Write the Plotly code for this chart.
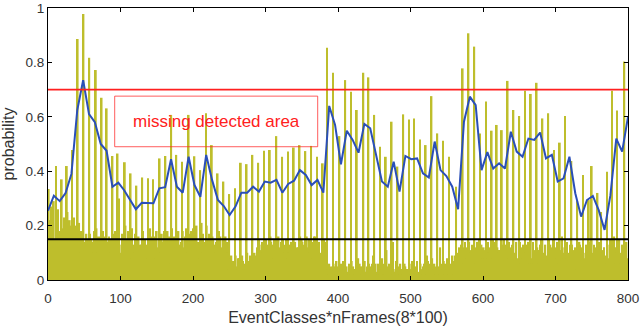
import numpy as np
import plotly.graph_objects as go

# Per-class probabilities, 100 frames each (EventClasses = 8, nFrames = 100)
class_1 = [0.335, 0.12, 0.18, 0.09, 0.478, 0.886, 0.978, 0.817, 0.14, 0.07,
           0.631, 0.456, 0.16, 0.11, 0.05, 0.17, 0.13, 0.08, 0.37, 0.12,
           0.15, 0.06, 0.46, 0.435, 0.10, 0.19, 0.08, 0.14, 0.11, 0.17,
           0.09, 0.04, 0.07, 0.03, 0.08, 0.05, 0.12, 0.14, 0.09, 0.13,
           0.07, 0.15, 0.11, 0.06, 0.13, 0.10, 0.16, 0.08, 0.854, 0.762,
           0.03, 0.05, 0.02, 0.06, 0.01, 0.04, 0.09, 0.02, 0.05, 0.03,
           0.07, 0.02, 0.04, 0.594, 0.517, 0.496, 0.676, 0.539, 0.512, 0.453,
           0.05, 0.11, 0.08, 0.13, 0.06, 0.12, 0.09, 0.14, 0.07, 0.10,
           0.12, 0.05, 0.09, 0.13, 0.04, 0.11, 0.07, 0.15, 0.06, 0.603,
           0.10, 0.04, 0.12, 0.08, 0.13, 0.05, 0.09, 0.14, 0.623, 0.11]
class_2 = [0.22, 0.15, 0.28, 0.419, 0.19, 0.13, 0.11, 0.17, 0.772, 0.67,
           0.14, 0.09, 0.30, 0.433, 0.392, 0.347, 0.377, 0.374, 0.15, 0.447,
           0.456, 0.607, 0.12, 0.18, 0.607, 0.455, 0.404, 0.613, 0.496, 0.392,
           0.362, 0.316, 0.337, 0.431, 0.426, 0.46, 0.431, 0.475, 0.478, 0.11,
           0.14, 0.08, 0.16, 0.12, 0.09, 0.15, 0.07, 0.13, 0.04, 0.06,
           0.529, 0.735, 0.692, 0.625, 0.05, 0.745, 0.607, 0.49, 0.453, 0.582,
           0.417, 0.609, 0.59, 0.03, 0.06, 0.02, 0.08, 0.04, 0.07, 0.03,
           0.09, 0.13, 0.06, 0.11, 0.14, 0.08, 0.12, 0.10, 0.551, 0.732,
           0.625, 0.603, 0.696, 0.684, 0.725, 0.594, 0.613, 0.478, 0.505, 0.12,
           0.4375, 0.29, 0.386, 0.294, 0.07, 0.11, 0.06, 0.696, 0.13, 0.09]
class_3 = [0.18, 0.419, 0.37, 0.25, 0.16, 0.21, 0.14, 0.12, 0.19, 0.15,
           0.11, 0.17, 0.13, 0.20, 0.08, 0.14, 0.18, 0.12, 0.16, 0.10,
           0.13, 0.19, 0.15, 0.09, 0.17, 0.12, 0.14, 0.20, 0.16, 0.11,
           0.13, 0.06, 0.09, 0.05, 0.10, 0.07, 0.15, 0.12, 0.16, 0.529,
           0.453, 0.472, 0.487, 0.496, 0.474, 0.493, 0.453, 0.429, 0.02, 0.05,
           0.04, 0.02, 0.07, 0.03, 0.762, 0.06, 0.01, 0.04, 0.11, 0.02,
           0.05, 0.03, 0.06, 0.02, 0.04, 0.09, 0.03, 0.05, 0.02, 0.06,
           0.343, 0.07, 0.12, 0.09, 0.15, 0.11, 0.06, 0.57, 0.13, 0.08,
           0.07, 0.14, 0.10, 0.06, 0.12, 0.09, 0.15, 0.05, 0.11, 0.08,
           0.13, 0.06, 0.10, 0.14, 0.09, 0.25, 0.398, 0.12, 0.07, 0.803]
class_4 = [0.27, 0.20, 0.13, 0.17, 0.23, 0.16, 0.12, 0.15, 0.10, 0.18,
           0.16, 0.12, 0.09, 0.15, 0.19, 0.11, 0.14, 0.17, 0.08, 0.15,
           0.10, 0.14, 0.18, 0.12, 0.16, 0.09, 0.21, 0.13, 0.15, 0.18,
           0.11, 0.08, 0.05, 0.09, 0.04, 0.08, 0.13, 0.09, 0.14, 0.11,
           0.15, 0.10, 0.13, 0.16, 0.08, 0.14, 0.11, 0.12, 0.06, 0.03,
           0.02, 0.05, 0.03, 0.08, 0.04, 0.02, 0.06, 0.03, 0.05, 0.14,
           0.03, 0.06, 0.02, 0.05, 0.03, 0.07, 0.04, 0.02, 0.06, 0.04,
           0.08, 0.778, 0.907, 0.858, 0.539, 0.656, 0.549, 0.12, 0.09, 0.14,
           0.10, 0.06, 0.13, 0.08, 0.11, 0.05, 0.09, 0.12, 0.07, 0.14,
           0.08, 0.11, 0.05, 0.12, 0.10, 0.07, 0.13, 0.09, 0.15, 0.06]
class_5 = [0.263, 0.24, 0.19, 0.12, 0.15, 0.10, 0.17, 0.13, 0.16, 0.11,
           0.13, 0.18, 0.10, 0.14, 0.12, 0.16, 0.09, 0.19, 0.13, 0.17,
           0.18, 0.11, 0.13, 0.16, 0.12, 0.20, 0.10, 0.15, 0.09, 0.14,
           0.16, 0.09, 0.04, 0.07, 0.05, 0.10, 0.09, 0.15, 0.11, 0.13,
           0.12, 0.09, 0.14, 0.10, 0.16, 0.08, 0.13, 0.15, 0.05, 0.02,
           0.06, 0.03, 0.05, 0.02, 0.07, 0.04, 0.03, 0.08, 0.02, 0.04,
           0.02, 0.05, 0.04, 0.07, 0.02, 0.03, 0.06, 0.12, 0.03, 0.05,
           0.10, 0.06, 0.14, 0.07, 0.11, 0.13, 0.08, 0.10, 0.15, 0.06,
           0.09, 0.12, 0.07, 0.14, 0.06, 0.10, 0.13, 0.08, 0.16, 0.05,
           0.11, 0.14, 0.08, 0.06, 0.12, 0.10, 0.05, 0.16, 0.09, 0.12]
class_6 = [0.21, 0.26, 0.15, 0.22, 0.13, 0.18, 0.09, 0.14, 0.12, 0.16,
           0.10, 0.14, 0.17, 0.09, 0.13, 0.11, 0.15, 0.10, 0.18, 0.12,
           0.14, 0.16, 0.09, 0.13, 0.18, 0.11, 0.17, 0.10, 0.13, 0.16,
           0.12, 0.05, 0.08, 0.04, 0.07, 0.03, 0.11, 0.08, 0.13, 0.16,
           0.10, 0.13, 0.08, 0.15, 0.11, 0.09, 0.14, 0.10, 0.04, 0.07,
           0.05, 0.02, 0.04, 0.06, 0.03, 0.05, 0.02, 0.06, 0.04, 0.03,
           0.06, 0.04, 0.03, 0.02, 0.05, 0.04, 0.02, 0.06, 0.04, 0.09,
           0.07, 0.12, 0.09, 0.06, 0.13, 0.08, 0.15, 0.11, 0.07, 0.12,
           0.14, 0.08, 0.11, 0.06, 0.09, 0.13, 0.05, 0.10, 0.12, 0.07,
           0.09, 0.13, 0.07, 0.419, 0.32, 0.11, 0.08, 0.12, 0.06, 0.14]
class_7 = [0.17, 0.13, 0.23, 0.16, 0.20, 0.12, 0.15, 0.10, 0.13, 0.09,
           0.15, 0.11, 0.14, 0.18, 0.10, 0.13, 0.12, 0.16, 0.11, 0.14,
           0.09, 0.15, 0.12, 0.19, 0.11, 0.14, 0.13, 0.17, 0.10, 0.12,
           0.14, 0.07, 0.03, 0.06, 0.09, 0.06, 0.14, 0.11, 0.08, 0.12,
           0.13, 0.11, 0.09, 0.14, 0.12, 0.16, 0.07, 0.13, 0.03, 0.05,
           0.07, 0.04, 0.02, 0.05, 0.03, 0.06, 0.04, 0.02, 0.06, 0.03,
           0.04, 0.02, 0.07, 0.03, 0.06, 0.02, 0.05, 0.03, 0.08, 0.02,
           0.06, 0.14, 0.10, 0.12, 0.08, 0.14, 0.10, 0.07, 0.13, 0.09,
           0.06, 0.10, 0.14, 0.09, 0.13, 0.07, 0.11, 0.14, 0.08, 0.10,
           0.05, 0.09, 0.13, 0.10, 0.07, 0.12, 0.15, 0.06, 0.10, 0.08]
class_8 = [0.29, 0.17, 0.14, 0.20, 0.11, 0.15, 0.13, 0.18, 0.16, 0.12,
           0.12, 0.465, 0.15, 0.11, 0.16, 0.09, 0.13, 0.15, 0.12, 0.18,
           0.16, 0.12, 0.14, 0.10, 0.15, 0.13, 0.11, 0.16, 0.14, 0.09,
           0.10, 0.06, 0.08, 0.04, 0.06, 0.09, 0.10, 0.13, 0.15, 0.09,
           0.11, 0.14, 0.12, 0.09, 0.15, 0.13, 0.10, 0.14, 0.05, 0.03,
           0.04, 0.06, 0.03, 0.02, 0.05, 0.03, 0.06, 0.02, 0.03, 0.05,
           0.03, 0.04, 0.05, 0.02, 0.04, 0.06, 0.03, 0.04, 0.02, 0.07,
           0.12, 0.09, 0.11, 0.14, 0.07, 0.10, 0.13, 0.09, 0.11, 0.13,
           0.08, 0.13, 0.06, 0.11, 0.15, 0.09, 0.12, 0.06, 0.10, 0.13,
           0.12, 0.07, 0.11, 0.09, 0.14, 0.08, 0.11, 0.10, 0.13, 0.07]

# Smoothed probability curve (one value per frame)
smoothed = [0.255, 0.31, 0.29, 0.32, 0.39, 0.625, 0.735, 0.61, 0.58, 0.50,
            0.475, 0.343, 0.358, 0.33, 0.295, 0.26, 0.284, 0.283, 0.282, 0.337,
            0.341, 0.444, 0.343, 0.321, 0.453, 0.349, 0.306, 0.46, 0.368, 0.294,
            0.272, 0.239, 0.27, 0.321, 0.321, 0.343, 0.325, 0.362, 0.358, 0.368,
            0.321, 0.353, 0.365, 0.404, 0.386, 0.349, 0.368, 0.321, 0.64, 0.57,
            0.425, 0.549, 0.515, 0.468, 0.574, 0.558, 0.466, 0.362, 0.343, 0.435,
            0.325, 0.456, 0.444, 0.447, 0.392, 0.377, 0.509, 0.404, 0.382, 0.343,
            0.26, 0.582, 0.674, 0.643, 0.404, 0.47, 0.41, 0.429, 0.41, 0.545,
            0.472, 0.453, 0.52, 0.515, 0.542, 0.447, 0.46, 0.362, 0.374, 0.453,
            0.319, 0.233, 0.294, 0.309, 0.257, 0.184, 0.312, 0.52, 0.472, 0.6]

upper_threshold = 0.7
lower_threshold = 0.15
x_ticks = [0, 100, 200, 300, 400, 500, 600, 700, 800]
y_ticks = [0, 0.2, 0.4, 0.6, 0.8, 1]

n_classes = 8
n_frames = len(class_1)
classes = [class_1, class_2, class_3, class_4, class_5, class_6, class_7, class_8]
bar_y = np.array(classes).T.reshape(-1)          # frame-major interleave
bar_x = np.arange(1, n_classes * n_frames + 1)
curve_x = np.linspace(0, n_classes * n_frames, n_frames)

FONT = "Liberation Sans, Arial, sans-serif"
TXT = "#333333"

fig = go.Figure()
fig.add_trace(go.Bar(x=bar_x, y=bar_y, marker=dict(color="rgb(190,190,44)", line=dict(width=0)),
                     width=2.4, showlegend=False, hoverinfo="skip"))
fig.add_trace(go.Scatter(x=curve_x, y=smoothed, mode="lines",
                         line=dict(color="#2a4fb8", width=2), showlegend=False))
fig.add_hline(y=upper_threshold, line=dict(color="#ff2020", width=1.6))
fig.add_hline(y=lower_threshold, line=dict(color="#000000", width=2))

fig.add_shape(type="rect", xref="x", yref="y", x0=92, x1=372, y0=0.49, y1=0.676,
              line=dict(color="rgba(255,40,40,0.75)", width=1), fillcolor="rgba(0,0,0,0)")
fig.add_annotation(x=232, y=0.583, xref="x", yref="y", text="missing detected area",
                   showarrow=False, font=dict(family=FONT, size=17, color="#ff2020"))

axis_common = dict(showline=True, mirror="ticks", linecolor="black", linewidth=1,
                   ticks="inside", ticklen=4, tickcolor="black", showgrid=False,
                   zeroline=False, automargin=False,
                   tickfont=dict(family=FONT, size=13.5, color=TXT))
fig.update_xaxes(range=[0, 800], tickvals=x_ticks, ticklabelstandoff=6,
                 title=dict(text="EventClasses*nFrames(8*100)", standoff=6,
                            font=dict(family=FONT, size=16, color=TXT)), **axis_common)
fig.update_yaxes(range=[0, 1], tickvals=y_ticks,
                 title=dict(text="probability", standoff=6,
                            font=dict(family=FONT, size=16, color=TXT)), **axis_common)

fig.update_layout(width=640, height=327, margin=dict(l=48, r=12, t=8, b=47, autoexpand=False),
                  plot_bgcolor="white", paper_bgcolor="white", bargap=0.2)
fig.write_html("out.html", config={"displayModeBar": False},
               post_script="document.body.style.margin='0px';document.body.style.overflow='hidden';")
